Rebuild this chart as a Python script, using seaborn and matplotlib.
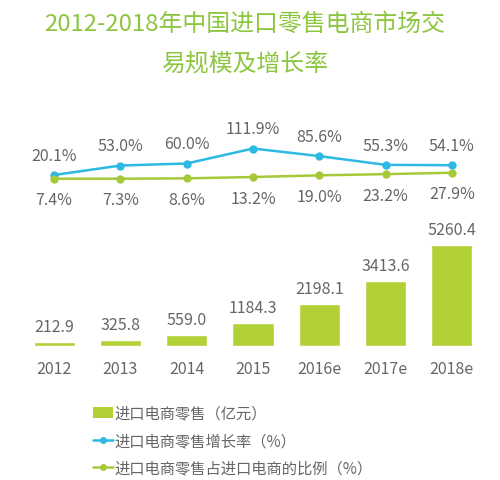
import numpy as np
import pandas as pd
import matplotlib
matplotlib.use('Agg')
import matplotlib.pyplot as plt
from matplotlib.patches import Patch
from matplotlib.lines import Line2D
import seaborn as sns

years = ['2012', '2013', '2014', '2015', '2016e', '2017e', '2018e']
retail = [212.9, 325.8, 559.0, 1184.3, 2198.1, 3413.6, 5260.4]
growth = [20.1, 53.0, 60.0, 111.9, 85.6, 55.3, 54.1]
share = [7.4, 7.3, 8.6, 13.2, 19.0, 23.2, 27.9]

title_lines = ['2012-2018年中国进口零售电商市场交', '易规模及增长率']
legend_labels = ['进口电商零售（亿元）', '进口电商零售增长率（%）', '进口电商零售占进口电商的比例（%）']

BAR = '#b1d136'
BLUE = '#2cb9e3'
GREEN = '#a6c93a'
TEXT = '#666666'
TITLE = '#8cc63f'

sns.set_theme(style='white')
plt.rcParams['font.family'] = ['Noto Sans CJK SC', 'DejaVu Sans']

df = pd.DataFrame({'year': years, 'retail': retail, 'growth': growth, 'share': share})

W, H = 500, 481
fig = plt.figure(figsize=(W / 100, H / 100), dpi=100)


def box(left, top, right, bottom):
    return [left / W, 1 - bottom / H, (right - left) / W, (bottom - top) / H]


# ---------- bars ----------
ax_bar = fig.add_axes(box(21, 232, 485, 347))
sns.barplot(data=df, x='year', y='retail', color=BAR, width=0.62, saturation=1, ax=ax_bar)
ax_bar.set_xlim(-0.5, 6.5)
ax_bar.set_ylim(0, 6000)
for i, v in enumerate(retail):
    ax_bar.annotate(f'{v:.1f}', (i, v), xytext=(0, 5), textcoords='offset points',
                    ha='center', va='bottom', fontsize=11.5, color=TEXT)
ax_bar.set_xlabel('')
ax_bar.set_ylabel('')
ax_bar.set_yticks([])
ax_bar.tick_params(axis='x', length=0, pad=10, labelsize=11.5, labelcolor=TEXT)
sns.despine(ax=ax_bar, left=True, bottom=True)

# ---------- lines ----------
ax_line = fig.add_axes(box(21, 141.4, 485, 187.6))
ax_line.set_xlim(-0.5, 6.5)
ax_line.set_ylim(-20, 140)
x = np.arange(len(years))
sns.lineplot(x=x, y=growth, color=BLUE, linewidth=1.8, marker='o', markersize=6,
             markeredgewidth=0, ax=ax_line)
sns.lineplot(x=x, y=share, color=GREEN, linewidth=1.8, marker='o', markersize=6,
             markeredgewidth=0, ax=ax_line)
for i, v in enumerate(growth):
    ax_line.annotate(f'{v:.1f}%', (i, v), xytext=(0, 8), textcoords='offset points',
                     ha='center', va='bottom', fontsize=11.5, color=TEXT)
for i, v in enumerate(share):
    ax_line.annotate(f'{v:.1f}%', (i, v), xytext=(0, -9), textcoords='offset points',
                     ha='center', va='top', fontsize=11.5, color=TEXT)
ax_line.axis('off')

# ---------- title ----------
fig.text(245 / W, 1 - 24 / H, title_lines[0], ha='center', va='center', fontsize=17.2,
         color=TITLE)
fig.text(245 / W, 1 - 64 / H, title_lines[1], ha='center', va='center', fontsize=17.2,
         color=TITLE)

# ---------- legend ----------
handles = [
    Patch(facecolor=BAR, edgecolor='none'),
    Line2D([0], [0], color=BLUE, lw=1.8, marker='o', markersize=5, markeredgewidth=0),
    Line2D([0], [0], color=GREEN, lw=1.8, marker='o', markersize=5, markeredgewidth=0),
]
fig.legend(handles, legend_labels, loc='upper left', bbox_to_anchor=(85 / W, 1 - 398 / H),
           frameon=False, labelcolor=TEXT, handlelength=1.3,
           handletextpad=0.1, labelspacing=0.68, borderpad=0,
           prop={'size': 11})

fig.savefig('out.png', dpi=100)
